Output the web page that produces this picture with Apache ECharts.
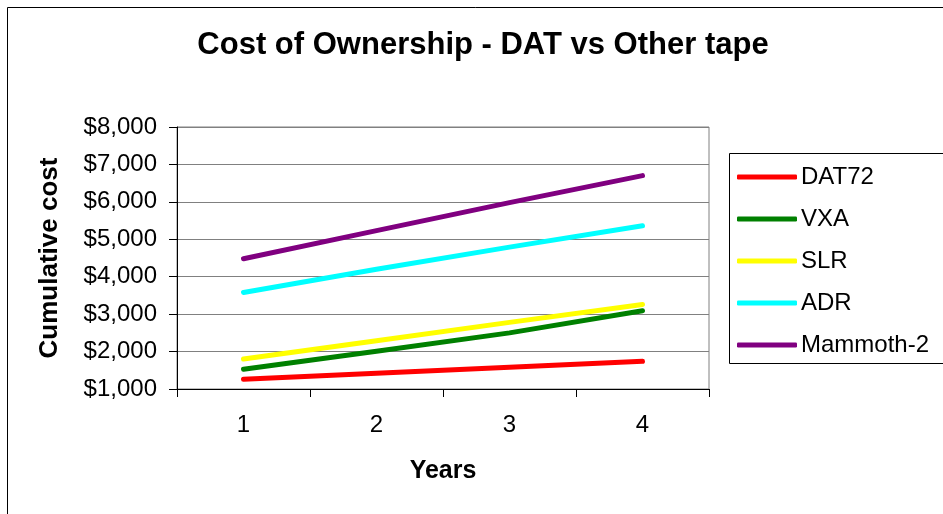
<!DOCTYPE html>
<html>
<head>
<meta charset="utf-8">
<script src="https://cdn.jsdelivr.net/npm/echarts@6/dist/echarts.min.js"></script>
<style>html,body{margin:0;padding:0;background:#fff}#c{width:943px;height:514px}</style>
</head>
<body>
<div id="c"></div>
<script>
const years = ['1', '2', '3', '4'];
const dat72 = [1260, 1420, 1580, 1740];
const vxa = [1530, 2010, 2500, 3090];
const slr = [1800, 2290, 2780, 3260];
const adr = [3580, 4200, 4790, 5360];
const mammoth2 = [4480, 5230, 5980, 6700];
const seriesNames = ['DAT72', 'VXA', 'SLR', 'ADR', 'Mammoth-2'];
const seriesColors = ['#FF0000', '#008000', '#FFFF00', '#00FFFF', '#800080'];
const seriesData = [dat72, vxa, slr, adr, mammoth2];

const FONT = 'Liberation Sans, Arial, sans-serif';
const chart = echarts.init(document.getElementById('c'));
chart.setOption({
  backgroundColor: '#fff',
  animation: false,
  title: {
    text: 'Cost of Ownership - DAT vs Other tape',
    left: 483, top: 30, textAlign: 'center', padding: 0,
    textStyle: { fontFamily: FONT, fontSize: 31, fontWeight: 'bold', color: '#000' }
  },
  graphic: [
    { type: 'rect', shape: { x: 7.5, y: 7.5, width: 960, height: 540 }, style: { fill: 'none', stroke: '#000', lineWidth: 1 }, silent: true },
    { type: 'rect', shape: { x: 729.5, y: 153.5, width: 230, height: 210 }, style: { fill: 'none', stroke: '#000', lineWidth: 1 }, silent: true }
  ],
  legend: {
    orient: 'vertical', left: 737, top: 165, padding: 0,
    itemWidth: 60, itemHeight: 5, itemGap: 18,
    icon: 'roundRect',
    data: seriesNames,
    textStyle: { fontFamily: FONT, fontSize: 24, color: '#000', padding: [0, 0, 0, -1] }
  },
  grid: { left: 177, right: 234, top: 127, bottom: 125, show: true, borderColor: '#808080', borderWidth: 1 },
  xAxis: {
    type: 'category', data: years, boundaryGap: true,
    name: 'Years', nameLocation: 'middle', nameGap: 70,
    nameTextStyle: { fontFamily: FONT, fontSize: 25, fontWeight: 'bold', color: '#000' },
    axisLine: { lineStyle: { color: '#000', width: 1 } },
    axisTick: { show: true, length: 8, lineStyle: { color: '#000' } },
    axisLabel: { fontFamily: FONT, fontSize: 24, color: '#000', margin: 24 },
    splitLine: { show: false }
  },
  yAxis: {
    type: 'value', min: 1000, max: 8000, interval: 1000,
    name: 'Cumulative cost', nameLocation: 'middle', nameGap: 114, nameRotate: 90,
    nameTextStyle: { fontFamily: FONT, fontSize: 26, fontWeight: 'bold', color: '#000' },
    axisLine: { show: true, lineStyle: { color: '#000', width: 1 } },
    axisTick: { show: true, length: 8, lineStyle: { color: '#000' } },
    axisLabel: {
      fontFamily: FONT, fontSize: 24, color: '#000', margin: 20,
      formatter: v => '$' + v.toLocaleString('en-US')
    },
    splitLine: { show: true, lineStyle: { color: '#808080', width: 1 } }
  },
  series: seriesNames.map((n, i) => ({
    name: n, type: 'line', data: seriesData[i], symbol: 'none', smooth: false,
    lineStyle: { color: seriesColors[i], width: 5, cap: 'round', join: 'round' },
    itemStyle: { color: seriesColors[i] }
  }))
});
</script>
</body>
</html>
